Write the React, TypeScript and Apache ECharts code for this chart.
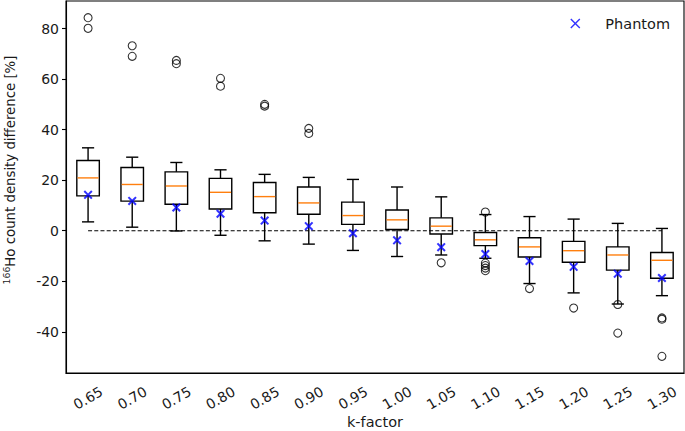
import React, { useEffect, useRef } from "react";
import * as echarts from "echarts";

const categories = ["0.65", "0.70", "0.75", "0.80", "0.85", "0.90", "0.95", "1.00", "1.05", "1.10", "1.15", "1.20", "1.25", "1.30"];
const whiskerHigh = [32.8, 29.1, 27.0, 24.1, 22.3, 21.1, 20.3, 17.3, 13.4, 6.4, 5.6, 4.6, 2.9, 0.9];
const q3 = [27.8, 25.0, 23.3, 20.7, 19.1, 17.3, 11.3, 8.2, 5.1, -0.7, -2.8, -4.2, -6.4, -8.6];
const medians = [20.9, 18.3, 17.7, 15.2, 13.5, 11.0, 6.0, 4.3, 1.8, -3.6, -6.4, -7.9, -9.6, -11.7];
const q1 = [13.8, 11.7, 10.5, 8.6, 7.1, 6.5, 2.5, 0.5, -1.3, -5.9, -10.4, -12.5, -15.6, -18.8];
const whiskerLow = [3.5, 1.4, -0.1, -1.8, -4.0, -5.3, -7.8, -10.2, -9.6, -10.9, -20.9, -24.6, -29.0, -25.7];
const phantom = [14.2, 11.8, 9.2, 6.7, 4.0, 1.8, -1.0, -3.8, -6.5, -9.2, -12.0, -14.3, -17.0, -18.7];
const outliers: number[][] = [
  [84.3, 80.1],
  [73.2, 69.0],
  [67.4, 66.1],
  [60.3, 57.2],
  [50.0, 49.3],
  [40.5, 38.5],
  [],
  [],
  [-12.7],
  [7.4, -12.8, -13.8, -14.8, -15.8],
  [-22.9],
  [-30.6],
  [-29.2, -40.5],
  [-34.5, -35.0, -49.7],
];
const yTicks = [-40, -20, 0, 20, 40, 60, 80];
const zeroLine = [0, 0];

const FONT = "DejaVu Sans";
const TXT = "#1a1a1a";
const XMARK = "path://M1,0L5,4L9,0L10,1L6,5L10,9L9,10L5,6L1,10L0,9L4,5L0,1Z";
const XMARK_BOLD = "path://M1.6,0L5,3.4L8.4,0L10,1.6L6.6,5L10,8.4L8.4,10L5,6.6L1.6,10L0,8.4L3.4,5L0,1.6Z";

export default function App() {
  const ref = useRef<HTMLDivElement>(null);
  useEffect(() => {
    document.body.style.margin = "0";
    const chart = echarts.init(ref.current!, null, { renderer: "svg" });
    const boxData = categories.map((_, i) => [i, whiskerLow[i], q1[i], medians[i], q3[i], whiskerHigh[i]]);
    const outlierData: [string, number][] = [];
    outliers.forEach((arr, i) => arr.forEach((v) => outlierData.push([categories[i], v])));
    const option: any = {
      animation: false,
      backgroundColor: "#fff",
      textStyle: { fontFamily: FONT },
      grid: {
        left: 66,
        right: 1,
        top: 1,
        bottom: 58,
        containLabel: false,
        outerBoundsMode: "none",
        show: true,
        borderColor: "#000",
        borderWidth: 1.1,
      },
      graphic: [
        {
          type: "text",
          x: 10,
          y: 170,
          rotation: Math.PI / 2,
          style: {
            text: "{sup|166}{n|Ho count density difference [%]}",
            align: "center",
            verticalAlign: "middle",
            rich: {
              sup: { fontSize: 9.3, verticalAlign: "top", lineHeight: 12, fontFamily: FONT, fill: TXT, color: TXT },
              n: { fontSize: 13.3, lineHeight: 17, fontFamily: FONT, fill: TXT, color: TXT },
            },
          },
        },
      ],
      legend: {
        data: [{ name: "Phantom", icon: XMARK }],
        right: 10,
        top: 11,
        itemWidth: 10,
        itemHeight: 10,
        textStyle: { fontFamily: FONT, fontSize: 14.5, color: TXT, padding: [0, 0, 0, 20] },
      },
      xAxis: {
        type: "category",
        data: categories,
        boundaryGap: true,
        name: "k-factor",
        nameLocation: "middle",
        nameGap: 41,
        nameMoveOverlap: false,
        nameTextStyle: { fontFamily: FONT, fontSize: 14.5, color: TXT },
        axisLine: { onZero: false, lineStyle: { color: "#000", width: 1.1 } },
        axisTick: { alignWithLabel: true, length: 4, lineStyle: { color: "#000", width: 1.1 } },
        axisLabel: {
          rotate: 30,
          align: "center",
          verticalAlign: "middle",
          margin: 25,
          fontFamily: FONT,
          fontSize: 14,
          color: TXT,
        },
        splitLine: { show: false },
      },
      yAxis: {
        type: "value",
        min: -56.3,
        max: 90.9,
        axisLine: { show: true, onZero: false, lineStyle: { color: "#000", width: 1.1 } },
        axisTick: { show: true, length: 4, customValues: yTicks, lineStyle: { color: "#000", width: 1.1 } },
        axisLabel: { customValues: yTicks, fontFamily: FONT, fontSize: 14, color: TXT, margin: 7 },
        splitLine: { show: false },
      },
      series: [
        {
          type: "line",
          data: [
            [categories[0], zeroLine[0]],
            [categories[categories.length - 1], zeroLine[1]],
          ],
          silent: true,
          symbol: "none",
          z: 1,
          lineStyle: { color: "#000", width: 1.1, type: [4, 2.2] },
        },
        {
          type: "custom",
          data: boxData,
          z: 3,
          renderItem: (params: any, api: any) => {
            const idx = api.value(0);
            const band = api.size([1, 0])[0];
            const x = api.coord([idx, 0])[0];
            const bw = band * 0.51;
            const cw = bw * 0.54;
            const yLow = api.coord([idx, api.value(1)])[1];
            const yQ1 = api.coord([idx, api.value(2)])[1];
            const yMed = api.coord([idx, api.value(3)])[1];
            const yQ3 = api.coord([idx, api.value(4)])[1];
            const yHigh = api.coord([idx, api.value(5)])[1];
            const ls = { stroke: "#000", lineWidth: 1.4 };
            return {
              type: "group",
              children: [
                { type: "line", shape: { x1: x, y1: yQ3, x2: x, y2: yHigh }, style: ls },
                { type: "line", shape: { x1: x, y1: yQ1, x2: x, y2: yLow }, style: ls },
                { type: "line", shape: { x1: x - cw / 2, y1: yHigh, x2: x + cw / 2, y2: yHigh }, style: ls },
                { type: "line", shape: { x1: x - cw / 2, y1: yLow, x2: x + cw / 2, y2: yLow }, style: ls },
                { type: "rect", shape: { x: x - bw / 2, y: yQ3, width: bw, height: yQ1 - yQ3 }, style: { ...ls, fill: "none" } },
                { type: "line", shape: { x1: x - bw / 2 + 0.7, y1: yMed, x2: x + bw / 2 - 0.7, y2: yMed }, style: { stroke: "#ff7f0e", lineWidth: 1.4 } },
              ],
            };
          },
        },
        {
          type: "scatter",
          data: outlierData,
          symbol: "circle",
          symbolSize: 8,
          z: 4,
          itemStyle: { color: "rgba(0,0,0,0)", borderColor: "#000", borderWidth: 1.1 },
        },
        {
          name: "Phantom",
          type: "scatter",
          data: phantom.map((v, i) => [categories[i], v]),
          symbol: XMARK_BOLD,
          symbolSize: 9,
          z: 5,
          itemStyle: { color: "#0000ff" },
        },
      ],
    };
    chart.setOption(option);
    return () => chart.dispose();
  }, []);
  return <div ref={ref} style={{ width: 685, height: 431, position: "absolute", left: 0, top: 0 }} />;
}
